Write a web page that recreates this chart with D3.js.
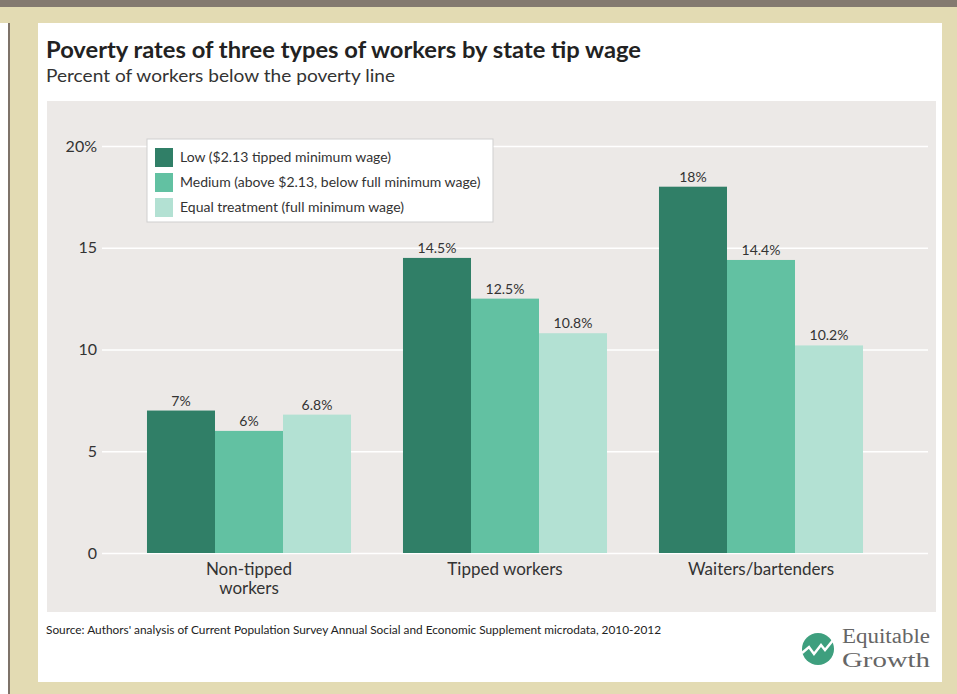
<!DOCTYPE html>
<html>
<head>
<meta charset="utf-8">
<script src="https://cdn.jsdelivr.net/npm/d3@7"></script>
<style>
 body { margin: 0; background: #ffffff; }
</style>
</head>
<body>
<div id="chart"></div>
<script>
// data
var categories = ["Non-tipped workers", "Tipped workers", "Waiters/bartenders"];
var seriesNames = ["Low ($2.13 tipped minimum wage)",
                   "Medium (above $2.13, below full minimum wage)",
                   "Equal treatment (full minimum wage)"];
var lowValues = [7, 14.5, 18];
var mediumValues = [6, 12.5, 14.4];
var equalValues = [6.8, 10.8, 10.2];
var valueLabels = [["7%", "6%", "6.8%"], ["14.5%", "12.5%", "10.8%"], ["18%", "14.4%", "10.2%"]];
var yTicks = [0, 5, 10, 15, 20];
var colors = ["#307f67", "#62c1a2", "#b3e1d3"];

var width = 957, height = 694;
var sans = "Lato, 'Open Sans', sans-serif";
var serif = "'Liberation Serif', 'DejaVu Serif', serif";

var svg = d3.select("#chart")
 .append("svg")
 .attr("width", width)
 .attr("height", height)
 .style("font-family", sans);

// page frame
svg.append("rect").attr("x", 0).attr("y", 0).attr("width", width).attr("height", height).attr("fill", "#e3dbb3");
svg.append("rect").attr("x", 0).attr("y", 23).attr("width", 8).attr("height", height - 23).attr("fill", "#ffffff");
svg.append("rect").attr("x", 8).attr("y", 23).attr("width", 2).attr("height", height - 23).attr("fill", "#7e7369");
svg.append("rect").attr("x", 0).attr("y", 0).attr("width", width).attr("height", 7).attr("fill", "#847a70");

// white card
svg.append("rect").attr("x", 38).attr("y", 23).attr("width", 904).attr("height", 659).attr("fill", "#ffffff");

// title
svg.append("text")
 .attr("x", 46).attr("y", 58)
 .attr("font-size", 23).attr("font-weight", "bold").attr("fill", "#222")
 .attr("textLength", 595).attr("lengthAdjust", "spacingAndGlyphs")
 .text("Poverty rates of three types of workers by state tip wage");
svg.append("text")
 .attr("x", 46).attr("y", 82)
 .attr("font-size", 18).attr("fill", "#333")
 .attr("textLength", 349).attr("lengthAdjust", "spacingAndGlyphs")
 .text("Percent of workers below the poverty line");

// plot background
svg.append("rect").attr("x", 47).attr("y", 101).attr("width", 889).attr("height", 511).attr("fill", "#ece9e7");

// scales
var x0 = d3.scaleBand()
 .domain(categories)
 .range([121, 889])
 .paddingInner(0.203)
 .paddingOuter(0.1015);

var x1 = d3.scaleBand()
 .domain(seriesNames)
 .range([0, x0.bandwidth()]);

var y = d3.scaleLinear()
 .domain([0, 20])
 .range([553, 146]);

// y axis with gridlines
var yAxis = svg.append("g")
 .attr("transform", "translate(102,0)")
 .call(d3.axisLeft(y).tickValues(yTicks).tickSize(-826)
   .tickFormat(function(d) { return d == 20 ? "20%" : d; }));
yAxis.select(".domain").remove();
yAxis.selectAll(".tick line").attr("stroke", "#ffffff").attr("stroke-width", 1.5);
yAxis.selectAll(".tick text")
 .attr("x", -5)
 .attr("font-size", 16)
 .attr("font-family", sans)
 .attr("fill", "#333");

// bars
var rows = categories.map(function(c, i) {
 return [lowValues[i], mediumValues[i], equalValues[i]].map(function(v, j) {
   return {cat: c, series: seriesNames[j], value: v, label: valueLabels[i][j], color: colors[j]};
 });
});

var groups = svg.selectAll(".group")
 .data(rows)
 .enter()
 .append("g")
 .attr("transform", function(d) { return "translate(" + x0(d[0].cat) + ",0)"; });

groups.selectAll("rect")
 .data(function(d) { return d; })
 .enter()
 .append("rect")
 .attr("x", function(d) { return x1(d.series); })
 .attr("y", function(d) { return y(d.value); })
 .attr("width", x1.bandwidth())
 .attr("height", function(d) { return y(0) - y(d.value); })
 .attr("fill", function(d) { return d.color; });

groups.selectAll(".lbl")
 .data(function(d) { return d; })
 .enter()
 .append("text")
 .attr("x", function(d) { return x1(d.series) + x1.bandwidth() / 2; })
 .attr("y", function(d) { return y(d.value) - 5; })
 .attr("text-anchor", "middle")
 .attr("font-size", 14)
 .attr("fill", "#333")
 .text(function(d) { return d.label; });

// category labels
var catLines = [["Non-tipped", "workers"], ["Tipped workers"], ["Waiters/bartenders"]];
categories.forEach(function(c, i) {
 catLines[i].forEach(function(line, k) {
   svg.append("text")
     .attr("x", x0(c) + x0.bandwidth() / 2)
     .attr("y", 575 + k * 19)
     .attr("text-anchor", "middle")
     .attr("font-size", 17)
     .attr("fill", "#333")
     .text(line);
 });
});

// legend
var legend = svg.append("g").attr("transform", "translate(147,139)");
legend.append("rect")
 .attr("width", 346).attr("height", 83)
 .attr("fill", "#ffffff").attr("stroke", "#cfcfcf");
seriesNames.forEach(function(s, i) {
 legend.append("rect")
   .attr("x", 8).attr("y", 9 + i * 25)
   .attr("width", 18).attr("height", 19)
   .attr("fill", colors[i]);
 legend.append("text")
   .attr("x", 33).attr("y", 23 + i * 25)
   .attr("font-size", 14)
   .attr("fill", "#333")
   .text(s);
});

// source
svg.append("text")
 .attr("x", 46).attr("y", 634)
 .attr("font-size", 11)
 .attr("fill", "#222")
 .attr("textLength", 615).attr("lengthAdjust", "spacingAndGlyphs")
 .text("Source: Authors' analysis of Current Population Survey Annual Social and Economic Supplement microdata, 2010-2012");

// logo
var logo = svg.append("g").attr("transform", "translate(818,649)");
logo.append("circle").attr("r", 16).attr("fill", "#3e9f7e");
logo.append("path")
 .attr("d", "M-16,4 L-9,-2 L-4,5 L3,-4 L7,1 L16,-10")
 .attr("fill", "none").attr("stroke", "#ffffff").attr("stroke-width", 2.5);
svg.append("text")
 .attr("x", 842).attr("y", 643)
 .style("font-family", serif)
 .attr("font-size", 20).attr("fill", "#666")
 .attr("textLength", 88).attr("lengthAdjust", "spacingAndGlyphs")
 .text("Equitable");
svg.append("text")
 .attr("x", 842).attr("y", 667)
 .style("font-family", serif)
 .attr("font-size", 20).attr("fill", "#666")
 .attr("textLength", 88).attr("lengthAdjust", "spacingAndGlyphs")
 .text("Growth");
</script>
</body>
</html>
